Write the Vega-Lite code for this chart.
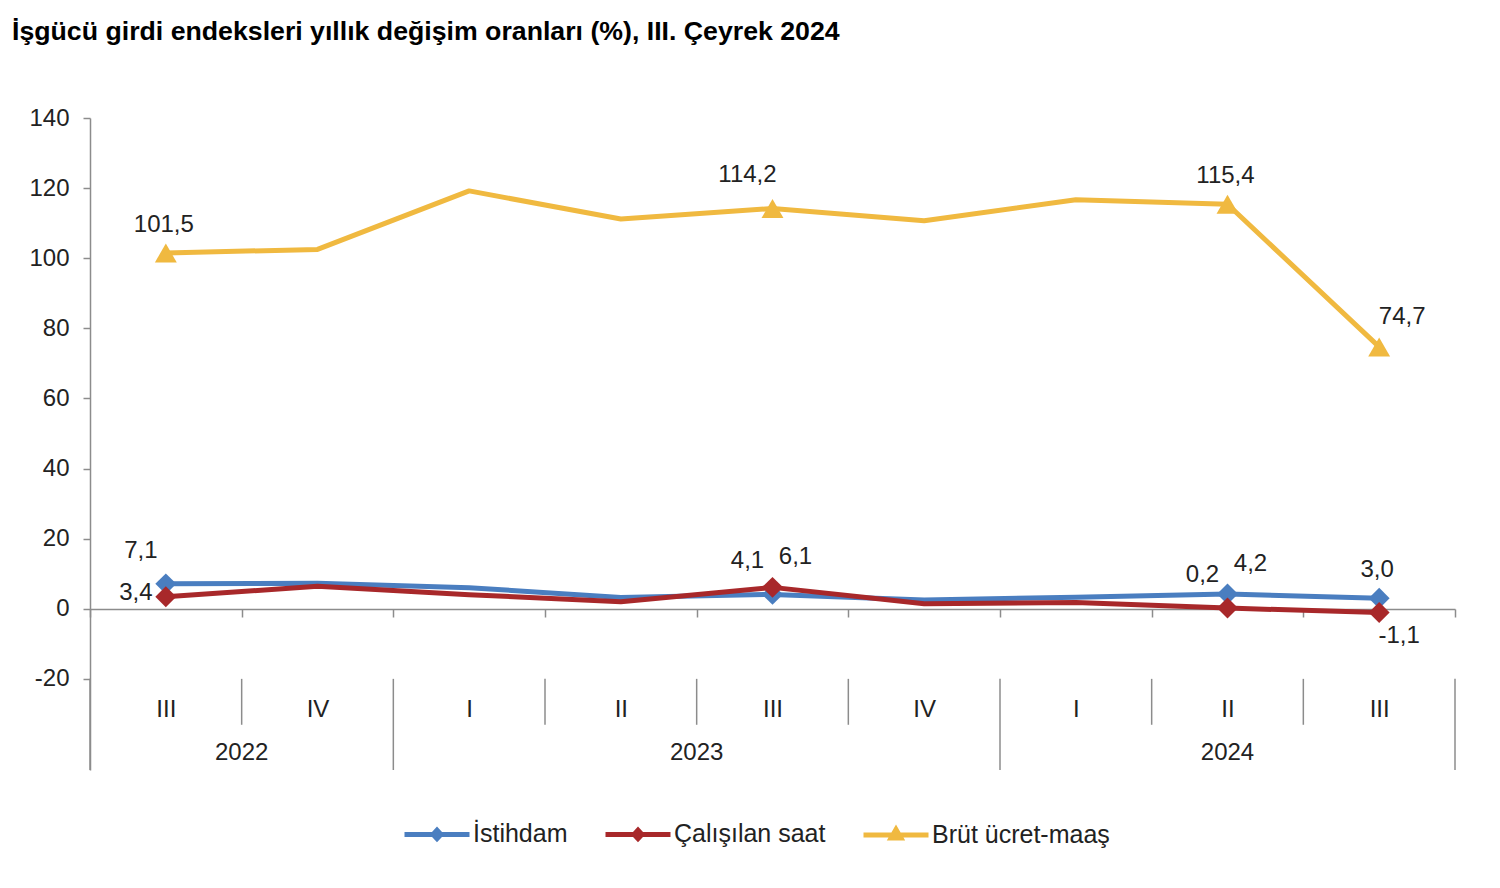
{
  "$schema": "https://vega.github.io/schema/vega-lite/v6.json",
  "width": 1365,
  "height": 652,
  "autosize": "none",
  "padding": {"left": 90, "top": 118, "right": 45, "bottom": 118},
  "background": "white",
  "config": {
    "locale": {"number": {"decimal": ",", "thousands": ".", "grouping": [3], "currency": ["", ""], "minus": "-"}},
    "font": "Liberation Sans",
    "view": {"stroke": null},
    "axis": {"grid": false}
  },
  "title": {
    "text": "İşgücü girdi endeksleri yıllık değişim oranları (%), III. Çeyrek 2024",
    "anchor": "start",
    "frame": "group",
    "dx": -78,
    "offset": 60,
    "fontSize": 26.7,
    "fontWeight": "bold",
    "font": "Liberation Sans",
    "color": "#000000"
  },
  "datasets": {
    "main": [
      {"q": "2022-III", "series": "İstihdam", "value": 7.1, "marker": true, "pos": "above-left"},
      {"q": "2022-IV", "series": "İstihdam", "value": 7.3, "marker": false, "pos": "none"},
      {"q": "2023-I", "series": "İstihdam", "value": 6.0, "marker": false, "pos": "none"},
      {"q": "2023-II", "series": "İstihdam", "value": 3.2, "marker": false, "pos": "none"},
      {"q": "2023-III", "series": "İstihdam", "value": 4.1, "marker": true, "pos": "above-left"},
      {"q": "2023-IV", "series": "İstihdam", "value": 2.5, "marker": false, "pos": "none"},
      {"q": "2024-I", "series": "İstihdam", "value": 3.3, "marker": false, "pos": "none"},
      {"q": "2024-II", "series": "İstihdam", "value": 4.2, "marker": true, "pos": "above-right"},
      {"q": "2024-III", "series": "İstihdam", "value": 3.0, "marker": true, "pos": "above"},
      {"q": "2022-III", "series": "Çalışılan saat", "value": 3.4, "marker": true, "pos": "left"},
      {"q": "2022-IV", "series": "Çalışılan saat", "value": 6.4, "marker": false, "pos": "none"},
      {"q": "2023-I", "series": "Çalışılan saat", "value": 4.0, "marker": false, "pos": "none"},
      {"q": "2023-II", "series": "Çalışılan saat", "value": 2.0, "marker": false, "pos": "none"},
      {"q": "2023-III", "series": "Çalışılan saat", "value": 6.1, "marker": true, "pos": "above-right"},
      {"q": "2023-IV", "series": "Çalışılan saat", "value": 1.4, "marker": false, "pos": "none"},
      {"q": "2024-I", "series": "Çalışılan saat", "value": 1.8, "marker": false, "pos": "none"},
      {"q": "2024-II", "series": "Çalışılan saat", "value": 0.2, "marker": true, "pos": "above-left"},
      {"q": "2024-III", "series": "Çalışılan saat", "value": -1.1, "marker": true, "pos": "below-right"},
      {"q": "2022-III", "series": "Brüt ücret-maaş", "value": 101.5, "marker": true, "pos": "above"},
      {"q": "2022-IV", "series": "Brüt ücret-maaş", "value": 102.5, "marker": false, "pos": "none"},
      {"q": "2023-I", "series": "Brüt ücret-maaş", "value": 119.2, "marker": false, "pos": "none"},
      {"q": "2023-II", "series": "Brüt ücret-maaş", "value": 111.2, "marker": false, "pos": "none"},
      {"q": "2023-III", "series": "Brüt ücret-maaş", "value": 114.2, "marker": true, "pos": "above-left"},
      {"q": "2023-IV", "series": "Brüt ücret-maaş", "value": 110.7, "marker": false, "pos": "none"},
      {"q": "2024-I", "series": "Brüt ücret-maaş", "value": 116.7, "marker": false, "pos": "none"},
      {"q": "2024-II", "series": "Brüt ücret-maaş", "value": 115.4, "marker": true, "pos": "above"},
      {"q": "2024-III", "series": "Brüt ücret-maaş", "value": 74.7, "marker": true, "pos": "above-right"}
    ],
    "seps": [
      {"q": "2022-III", "kind": "year", "edge": "start"},
      {"q": "2023-I", "kind": "year", "edge": "start"},
      {"q": "2024-I", "kind": "year", "edge": "start"},
      {"q": "2024-III", "kind": "year", "edge": "end"},
      {"q": "2022-IV", "kind": "quarter", "edge": "start"},
      {"q": "2023-II", "kind": "quarter", "edge": "start"},
      {"q": "2023-III", "kind": "quarter", "edge": "start"},
      {"q": "2023-IV", "kind": "quarter", "edge": "start"},
      {"q": "2024-II", "kind": "quarter", "edge": "start"},
      {"q": "2024-III", "kind": "quarter", "edge": "start"}
    ],
    "years": [
      {"year": "2022", "q": "2022-IV", "at": "start"},
      {"year": "2023", "q": "2023-III", "at": "start"},
      {"year": "2024", "q": "2024-II", "at": "center"}
    ]
  },
  "layer": [
    {
      "data": {"name": "main"},
      "mark": {"type": "line", "strokeWidth": 5, "strokeJoin": "round"},
      "encoding": {
        "x": {
          "field": "q", "type": "nominal", "sort": null,
          "scale": {"domain": ["2022-III","2022-IV","2023-I","2023-II","2023-III","2023-IV","2024-I","2024-II","2024-III"], "paddingInner": 0, "paddingOuter": 0},
          "axis": {
            "title": null, "orient": "bottom", "offset": -161,
            "domain": true, "domainColor": "#8c8c8c", "domainWidth": 1.5,
            "ticks": true, "tickBand": "extent", "tickSize": 8, "tickColor": "#8c8c8c", "tickWidth": 1.5,
            "labelExpr": "split(datum.label, '-')[1]", "labelAngle": 0,
            "labelFontSize": 24, "labelFont": "Liberation Sans", "labelColor": "#222222",
            "labelPadding": 80, "labelBaseline": "top"
          }
        },
        "y": {
          "field": "value", "type": "quantitative",
          "scale": {"domain": [-46, 140], "nice": false, "zero": false},
          "axis": {
            "title": null, "values": [-20, 0, 20, 40, 60, 80, 100, 120, 140], "format": "d",
            "domainColor": "#8c8c8c", "domainWidth": 1.5, "tickColor": "#8c8c8c", "tickWidth": 1.5, "tickSize": 7,
            "labelFontSize": 24, "labelFont": "Liberation Sans", "labelColor": "#222222", "labelPadding": 14
          }
        },
        "color": {
          "field": "series", "type": "nominal",
          "scale": {"domain": ["İstihdam", "Çalışılan saat", "Brüt ücret-maaş"], "range": ["#4A7EC0", "#A8282A", "#F0B940"]},
          "legend": {
            "orient": "none", "legendX": 312, "legendY": 681, "direction": "horizontal", "title": null,
            "labelFontSize": 25, "labelFont": "Liberation Sans", "labelColor": "#222222", "labelLimit": 500,
            "symbolSize": 4225, "symbolStrokeWidth": 5, "labelOffset": 1, "columnPadding": 27, "padding": 0,
            "encode": {
              "symbols": {
                "update": {
                  "shape": {"signal": "datum.value === 'Brüt ücret-maaş' ? 'M-1,0H1M0,-0.17L0.15,0.09H-0.15Z' : 'M-1,0H1M0,-0.13L0.12,0L0,0.13L-0.12,0Z'"},
                  "fill": {"scale": "color", "field": "value"},
                  "strokeWidth": {"value": 5},
                  "size": {"value": 4225}
                }
              }
            }
          }
        }
      }
    },
    {
      "data": {"name": "seps"},
      "transform": [{"filter": "datum.kind === 'year' && datum.edge === 'start'"}],
      "mark": {"type": "rule", "color": "#8c8c8c", "strokeWidth": 1.5},
      "encoding": {
        "x": {"field": "q", "type": "nominal", "bandPosition": 0},
        "y": {"datum": -20, "type": "quantitative"},
        "y2": {"datum": -46}
      }
    },
    {
      "data": {"name": "seps"},
      "transform": [{"filter": "datum.kind === 'year' && datum.edge === 'end'"}],
      "mark": {"type": "rule", "color": "#8c8c8c", "strokeWidth": 1.5},
      "encoding": {
        "x": {"field": "q", "type": "nominal", "bandPosition": 1},
        "y": {"datum": -20, "type": "quantitative"},
        "y2": {"datum": -46}
      }
    },
    {
      "data": {"name": "seps"},
      "transform": [{"filter": "datum.kind === 'quarter'"}],
      "mark": {"type": "rule", "color": "#8c8c8c", "strokeWidth": 1.5},
      "encoding": {
        "x": {"field": "q", "type": "nominal", "bandPosition": 0},
        "y": {"datum": -20, "type": "quantitative"},
        "y2": {"datum": -33.1}
      }
    },
    {
      "data": {"name": "years"},
      "transform": [{"filter": "datum.at === 'start'"}],
      "mark": {"type": "text", "fontSize": 24, "font": "Liberation Sans", "color": "#222222", "align": "center", "baseline": "middle"},
      "encoding": {
        "x": {"field": "q", "type": "nominal", "bandPosition": 0},
        "y": {"datum": -41.1, "type": "quantitative"},
        "text": {"field": "year"}
      }
    },
    {
      "data": {"name": "years"},
      "transform": [{"filter": "datum.at === 'center'"}],
      "mark": {"type": "text", "fontSize": 24, "font": "Liberation Sans", "color": "#222222", "align": "center", "baseline": "middle"},
      "encoding": {
        "x": {"field": "q", "type": "nominal", "bandPosition": 0.5},
        "y": {"datum": -41.1, "type": "quantitative"},
        "text": {"field": "year"}
      }
    },
    {
      "data": {"name": "main"},
      "transform": [{"filter": "datum.marker && datum.series !== 'Brüt ücret-maaş'"}],
      "mark": {"type": "point", "filled": true, "size": 440, "opacity": 1, "shape": "diamond"},
      "encoding": {
        "x": {"field": "q", "type": "nominal"},
        "y": {"field": "value", "type": "quantitative"},
        "color": {"field": "series", "type": "nominal", "legend": null}
      }
    },
    {
      "data": {"name": "main"},
      "transform": [{"filter": "datum.marker && datum.series === 'Brüt ücret-maaş'"}],
      "mark": {"type": "point", "filled": true, "size": 480, "opacity": 1, "shape": "triangle-up"},
      "encoding": {
        "x": {"field": "q", "type": "nominal"},
        "y": {"field": "value", "type": "quantitative"},
        "color": {"field": "series", "type": "nominal", "legend": null}
      }
    },
    {
      "data": {"name": "main"},
      "transform": [{"filter": "datum.pos === 'above'"}],
      "mark": {"type": "text", "fontSize": 24, "font": "Liberation Sans", "color": "#222222", "align": "center", "baseline": "middle", "dx": -2, "dy": -28},
      "encoding": {
        "x": {"field": "q", "type": "nominal"},
        "y": {"field": "value", "type": "quantitative"},
        "text": {"field": "value", "type": "quantitative", "format": ".1f"}
      }
    },
    {
      "data": {"name": "main"},
      "transform": [{"filter": "datum.pos === 'above-left'"}],
      "mark": {"type": "text", "fontSize": 24, "font": "Liberation Sans", "color": "#222222", "align": "center", "baseline": "middle", "dx": -25, "dy": -33},
      "encoding": {
        "x": {"field": "q", "type": "nominal"},
        "y": {"field": "value", "type": "quantitative"},
        "text": {"field": "value", "type": "quantitative", "format": ".1f"}
      }
    },
    {
      "data": {"name": "main"},
      "transform": [{"filter": "datum.pos === 'above-right'"}],
      "mark": {"type": "text", "fontSize": 24, "font": "Liberation Sans", "color": "#222222", "align": "center", "baseline": "middle", "dx": 23, "dy": -30},
      "encoding": {
        "x": {"field": "q", "type": "nominal"},
        "y": {"field": "value", "type": "quantitative"},
        "text": {"field": "value", "type": "quantitative", "format": ".1f"}
      }
    },
    {
      "data": {"name": "main"},
      "transform": [{"filter": "datum.pos === 'left'"}],
      "mark": {"type": "text", "fontSize": 24, "font": "Liberation Sans", "color": "#222222", "align": "center", "baseline": "middle", "dx": -30, "dy": -4},
      "encoding": {
        "x": {"field": "q", "type": "nominal"},
        "y": {"field": "value", "type": "quantitative"},
        "text": {"field": "value", "type": "quantitative", "format": ".1f"}
      }
    },
    {
      "data": {"name": "main"},
      "transform": [{"filter": "datum.pos === 'below-right'"}],
      "mark": {"type": "text", "fontSize": 24, "font": "Liberation Sans", "color": "#222222", "align": "center", "baseline": "middle", "dx": 20, "dy": 23},
      "encoding": {
        "x": {"field": "q", "type": "nominal"},
        "y": {"field": "value", "type": "quantitative"},
        "text": {"field": "value", "type": "quantitative", "format": ".1f"}
      }
    }
  ]
}
